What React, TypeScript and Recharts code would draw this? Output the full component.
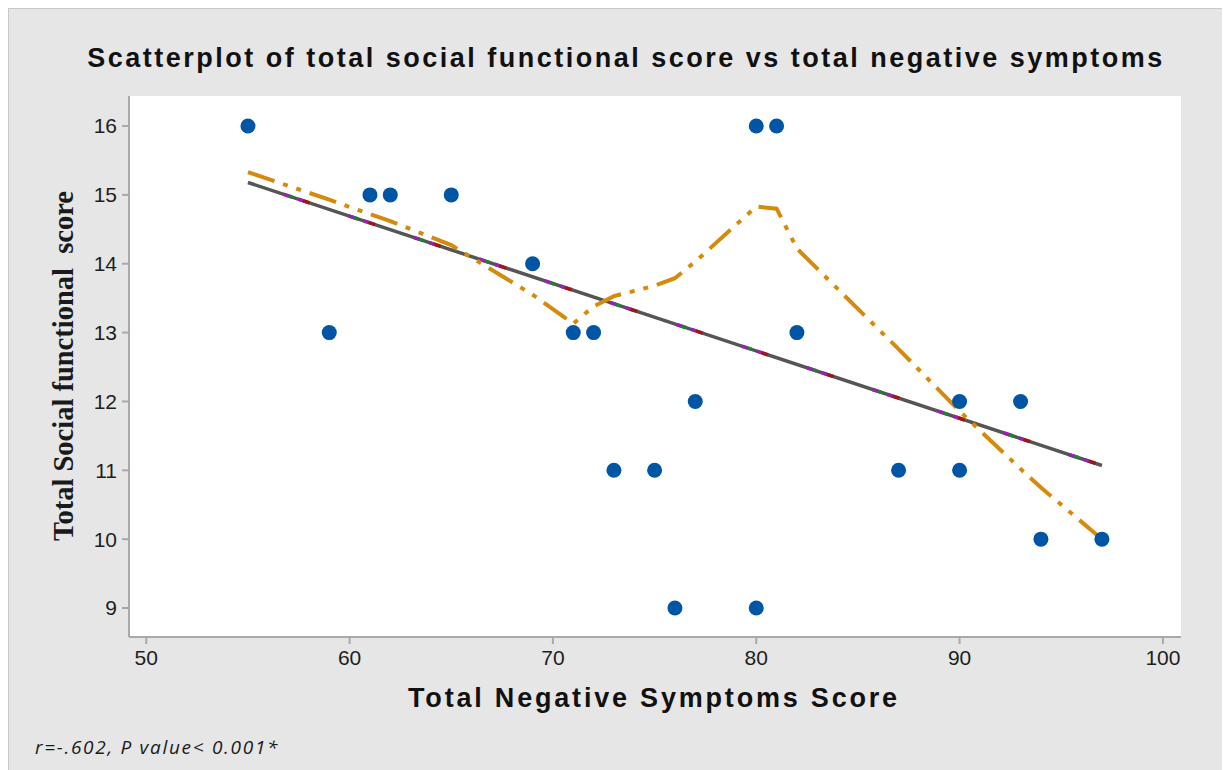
import React from 'react'
import { ComposedChart, Scatter, Line, XAxis, YAxis, CartesianGrid } from 'recharts'

// observed points
const negScore = [55, 59, 61, 62, 65, 69, 71, 72, 73, 75, 76, 77, 80, 80, 81, 82, 87, 90, 90, 93, 94, 97]
const socialScore = [16, 13, 15, 15, 15, 14, 13, 13, 11, 11, 9, 12, 16, 9, 16, 13, 11, 12, 11, 12, 10, 10]

// fitted regression line ends
const fitX = [55, 97]
const fitY = [15.18, 11.07]

// lowess smoother
const lowessX = [55, 59, 61, 62, 65, 69, 71, 72, 73, 75, 76, 77, 80, 81, 82, 87, 90, 93, 94, 97]
const lowessY = [15.33, 14.93, 14.72, 14.62, 14.27, 13.55, 13.13, 13.38, 13.53, 13.68, 13.79, 14.03, 14.83, 14.8, 14.22, 12.76, 11.86, 11.02, 10.75, 10.0]

const xTicks = [50, 60, 70, 80, 90, 100]
const yTicks = [9, 10, 11, 12, 13, 14, 15, 16]

const points = negScore.map((x, i) => ({ x, y: socialScore[i] }))
const fitData = fitX.map((x, i) => ({ x, y: fitY[i] }))
const lowessData = lowessX.map((x, i) => ({ x, y: lowessY[i] }))

const xDomain = [49.15, 100.89]
const yDomain = [8.579, 16.436]

const axisGray = '#a9a9a9'
const tickStyle = { fontFamily: 'Liberation Sans, Arial, sans-serif', fontSize: 21, fill: '#1e1e1e' }

const Dot = (props: any) => <circle cx={props.cx} cy={props.cy} r={7.5} fill="#0055a5" />

export default function App() {
  return (
    <div
      style={{
        position: 'relative',
        width: 1221,
        height: 761,
        background: '#e6e6e6',
        borderLeft: '1px solid #c9c9c9',
        borderTop: '1px solid #c9c9c9',
      }}
    >
      <div
        style={{
          position: 'absolute',
          left: 0,
          width: 1234,
          top: 34,
          textAlign: 'center',
          fontFamily: 'Liberation Sans, Arial, sans-serif',
          fontWeight: 'bold',
          fontSize: 27,
          letterSpacing: 2.5,
          color: '#111',
        }}
      >
        Scatterplot of total social functional score vs total negative symptoms
      </div>

      <ComposedChart width={1221} height={761} margin={{ top: 87, right: 49, bottom: 93, left: 60 }}>
        <CartesianGrid fill="#ffffff" stroke="none" />
        <XAxis
          dataKey="x"
          type="number"
          domain={xDomain}
          ticks={xTicks}
          allowDataOverflow
          height={40}
          tick={tickStyle}
          tickLine={{ stroke: axisGray, strokeWidth: 2 }}
          tickSize={7}
          tickMargin={6}
          axisLine={{ stroke: axisGray, strokeWidth: 2 }}
        />
        <XAxis xAxisId="top" dataKey="x" type="number" domain={xDomain} orientation="top" height={0} tick={false} tickLine={false} axisLine={{ stroke: axisGray, strokeWidth: 2 }} />
        <YAxis
          type="number"
          domain={yDomain}
          ticks={yTicks}
          allowDataOverflow
          width={60}
          tick={tickStyle}
          tickLine={{ stroke: axisGray, strokeWidth: 2 }}
          tickSize={7}
          tickMargin={5}
          axisLine={{ stroke: axisGray, strokeWidth: 2 }}
        />
        <YAxis yAxisId="right" type="number" domain={yDomain} orientation="right" width={0} tick={false} tickLine={false} axisLine={{ stroke: axisGray, strokeWidth: 2 }} />

        <Line data={fitData} dataKey="y" type="linear" stroke="#555555" strokeWidth={3.5} dot={false} activeDot={false} isAnimationActive={false} />
        <Line data={fitData} dataKey="y" type="linear" stroke="#9a1fb5" strokeWidth={3.5} strokeDasharray="6 10 5 48" strokeDashoffset={32} dot={false} activeDot={false} isAnimationActive={false} />
        <Line data={fitData} dataKey="y" type="linear" stroke="#138a2a" strokeWidth={3.5} strokeDasharray="0 6 4 59" strokeDashoffset={32} dot={false} activeDot={false} isAnimationActive={false} />
        <Line data={fitData} dataKey="y" type="linear" stroke="#a31515" strokeWidth={3.5} strokeDasharray="0 21 7 41" strokeDashoffset={32} dot={false} activeDot={false} isAnimationActive={false} />
        <Line data={lowessData} dataKey="y" type="linear" stroke="#d68a0c" strokeWidth={4} strokeDasharray="28 9 5 9 5 9" dot={false} activeDot={false} isAnimationActive={false} />

        <Scatter data={points} dataKey="y" shape={Dot} isAnimationActive={false} />
      </ComposedChart>

      <div
        style={{
          position: 'absolute',
          left: 0,
          width: 1290,
          top: 674,
          textAlign: 'center',
          fontFamily: 'Liberation Sans, Arial, sans-serif',
          fontWeight: 'bold',
          fontSize: 27,
          letterSpacing: 2.8,
          color: '#111',
        }}
      >
        Total Negative Symptoms Score
      </div>

      <div
        style={{
          position: 'absolute',
          left: 55 - 200,
          top: 358 - 17,
          width: 400,
          textAlign: 'center',
          transform: 'rotate(-90deg)',
          fontFamily: 'Liberation Serif, Times New Roman, serif',
          fontWeight: 'bold',
          fontSize: 28.5,
          whiteSpace: 'pre',
          color: '#1a1a1a',
        }}
      >
        {'Total Social functional  score'}
      </div>

      <div
        style={{
          position: 'absolute',
          left: 26,
          top: 725,
          fontFamily: 'Open Sans, sans-serif',
          fontStyle: 'italic',
          fontSize: 19,
          letterSpacing: 1.7,
          color: '#1a1a1a',
        }}
      >
        r=-.602, P value&lt; 0.001*
      </div>
    </div>
  )
}
